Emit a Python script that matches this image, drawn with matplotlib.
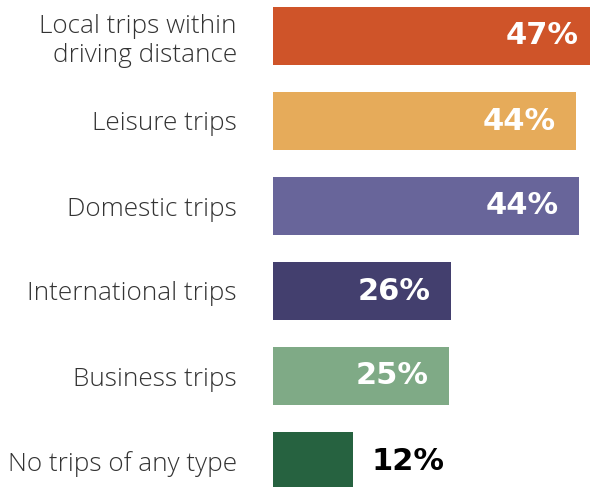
import matplotlib
matplotlib.use("Agg")
import matplotlib.pyplot as plt

categories = ["Local trips within\ndriving distance", "Leisure trips", "Domestic trips",
              "International trips", "Business trips", "No trips of any type"]
values = [47.2, 43.9, 44.3, 25.8, 25.5, 11.6]
labels = ["47%", "44%", "44%", "26%", "25%", "12%"]
colors = ["#CF5429", "#E6AB5A", "#68659A", "#433F6E", "#7FAA86", "#266240"]

W, H = 590, 487
fig = plt.figure(figsize=(W / 100, H / 100), dpi=100)
ax = fig.add_axes([273 / W, 0, 1 - 273 / W, 1])

pos = list(range(len(categories)))
ax.barh(pos, values, height=0.68, color=colors)
ax.set_xlim(0, 317 / 6.9)
ax.set_ylim((487 - 36) / 85, -36 / 85)

for i, (v, lab) in enumerate(zip(values, labels)):
    if v > 20:
        ax.annotate(lab, (v, i), xytext=(-20, 0), textcoords="offset pixels",
                    ha="right", va="center", color="white", fontsize=22,
                    fontweight="bold", family=["DejaVu Sans"],
                    annotation_clip=False)
    else:
        ax.annotate(lab, (v, i), xytext=(18, 0), textcoords="offset pixels",
                    ha="left", va="center", color="black", fontsize=22,
                    fontweight="bold", family=["DejaVu Sans"],
                    annotation_clip=False)

ax.set_yticks(pos)
ax.set_yticklabels(categories, fontsize=18.8, color="#333333",
                   family=["Open Sans", "DejaVu Sans"], fontweight="light")
ax.tick_params(axis="y", length=0, pad=26)
ax.set_xticks([])
for s in ax.spines.values():
    s.set_visible(False)

fig.savefig("out.png", dpi=100)
